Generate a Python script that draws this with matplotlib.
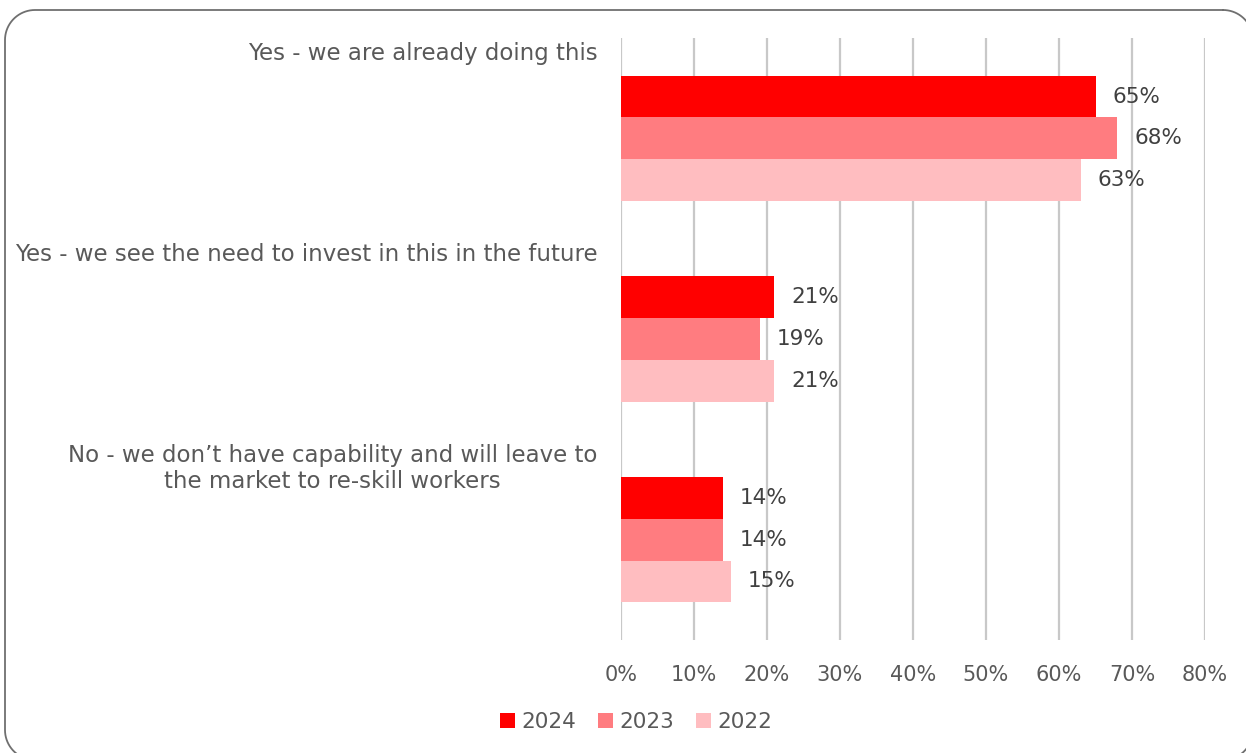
import numpy as np
import matplotlib
matplotlib.use('Agg')
import matplotlib.pyplot as plt
from matplotlib.lines import Line2D
from matplotlib.transforms import IdentityTransform

categories = ['Yes - we are already doing this',
              'Yes - we see the need to invest in this in the future',
              "No - we don\u2019t have capability and will leave to\nthe market to re-skill workers"]
years = ['2024', '2023', '2022']
values = {
    '2024': [65, 21, 14],
    '2023': [68, 19, 14],
    '2022': [63, 21, 15],
}
colors = ['#ff0000', '#ff7c80', '#ffbdc0']
xticks = [0, 10, 20, 30, 40, 50, 60, 70, 80]

plt.rcParams['font.family'] = ['DejaVu Sans']
text_color = '#595959'

fig = plt.figure(figsize=(12.46, 7.53), dpi=100)
W, H = 1246, 753


def rounded_rect(x0, y0, x1, y1, r, n=20):
    # outline of a rounded rectangle, pixel coords with y measured from the top
    pts = []
    corners = [(x1 - r, y0 + r, -90, 0), (x1 - r, y1 - r, 0, 90),
               (x0 + r, y1 - r, 90, 180), (x0 + r, y0 + r, 180, 270)]
    for cx, cy, a0, a1 in corners:
        t = np.radians(np.linspace(a0, a1, n))
        pts += list(zip(cx + r * np.cos(t), cy + r * np.sin(t)))
    pts.append(pts[0])
    xs, ys = np.array(pts).T
    return xs, H - ys


# rounded frame round the whole chart (runs off the right and bottom edges)
fx, fy = rounded_rect(5, 10, 1253, 760, 30)
fig.add_artist(Line2D(fx, fy, transform=IdentityTransform(),
                      color='#6f6f6f', lw=1.3))

ax = fig.add_axes([621 / W, 1 - 640 / H, (1205 - 621) / W, (640 - 38) / H])

bar_h = 0.208
y = np.arange(len(categories))
for i, yr in enumerate(years):
    pos = y + (i - 1) * bar_h
    ax.barh(pos, values[yr], height=bar_h, color=colors[i], label=yr, zorder=3)
    for p, v in zip(pos, values[yr]):
        ax.text(v + 2.3, p, f'{v}%', va='center', ha='left',
                fontsize=15.5, color='#404040', zorder=4)

ax.set_xlim(0, 80)
ax.set_ylim(len(categories) - 0.5, -0.5)
ax.set_xticks(xticks)
ax.set_xticklabels([f'{t}%' for t in xticks], fontsize=15, color=text_color)
ax.set_yticks([])
ax.tick_params(axis='x', length=0, pad=18)
ax.grid(axis='x', color='#c8c8c8', lw=1.6, zorder=0)
for s in ax.spines.values():
    s.set_visible(False)

# category labels sit at the top of each group, left of the y axis
for i, c in enumerate(categories):
    ax.annotate(c, xy=(0, i - 0.5), xycoords='data',
                xytext=(-17, -3), textcoords='offset points',
                ha='right', va='top', multialignment='center',
                fontsize=16.5, color=text_color,
                linespacing=1.2, annotation_clip=False)

fig.legend(loc='center', bbox_to_anchor=(636 / W, 1 - 722 / H), ncol=3,
           frameon=False, fontsize=15.5, labelcolor=text_color,
           handlelength=0.7, handleheight=0.7, handletextpad=0.3,
           columnspacing=1.0)

plt.savefig('out.png', dpi=100)
